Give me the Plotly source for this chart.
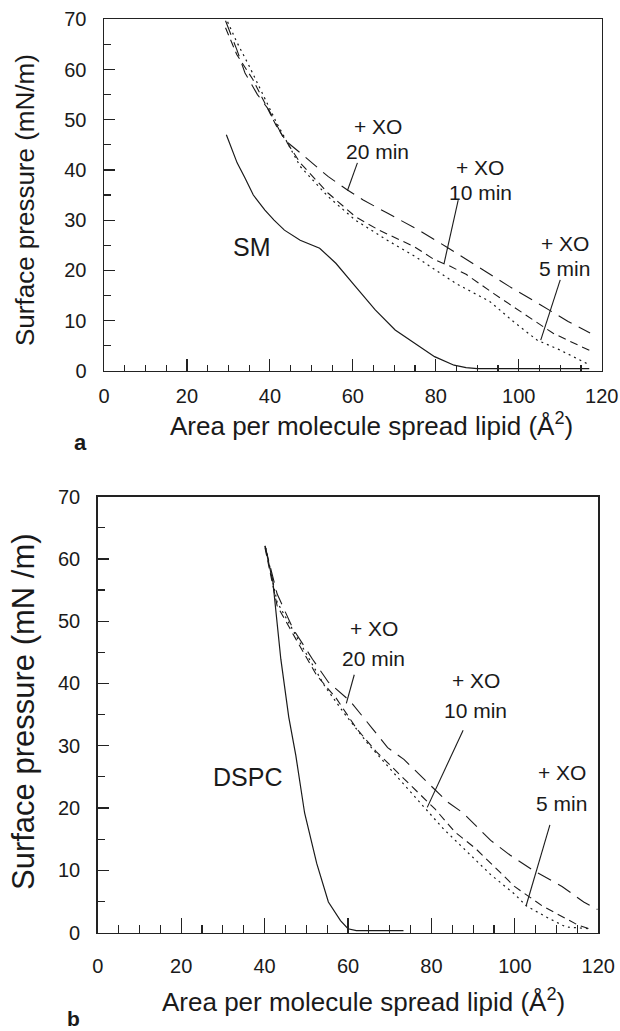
import plotly.graph_objects as go

W, H = 620, 1031
FONT = "Liberation Sans, Arial, Helvetica, sans-serif"
INK = "#1a1a1a"

# ---------------- Panel a : SM ----------------
a_sm_x = [29.5, 32.1, 34, 36, 38.8, 41, 43.5, 47.3, 52, 55.9, 60.6, 65.4, 70.2, 74.9, 79.7, 84.4, 87.3, 90, 100, 110, 117]
a_sm_y = [47, 41.4, 38.4, 35, 32, 30, 28, 26, 24.4, 21.4, 16.8, 12.1, 8.1, 5.5, 2.8, 1.1, 0.6, 0.4, 0.4, 0.4, 0.4]

a_20_x = [29.3, 32, 34, 37, 39.7, 43.5, 47.3, 54, 58.7, 62.5, 68.3, 75.9, 82.5, 90.1, 97.7, 105.3, 111.9, 117.2]
a_20_y = [69.7, 64, 59.3, 55, 52, 46, 43.4, 38.7, 36, 34, 31.4, 28, 24.7, 20.8, 16.8, 13.1, 9.8, 7.5]

a_10_x = [29.3, 32, 35.9, 41.6, 47.3, 54, 60.6, 66.3, 74.8, 79.7, 83.5, 87.3, 93.9, 101.5, 108.2, 112, 117.2]
a_10_y = [68.3, 63, 58, 48.7, 41.4, 35.4, 30.7, 28, 24.7, 22.1, 20.8, 19.2, 15.4, 11.2, 7.5, 6, 4]

a_5_x = [29.8, 32, 35, 41.6, 47.3, 54, 60.6, 68.3, 74.9, 79.7, 85, 93, 98.7, 104.4, 110, 117.2]
a_5_y = [69.5, 65.5, 60.7, 49.4, 40.7, 34.7, 30, 26, 22.8, 20.2, 17.3, 13.8, 9.8, 6.1, 4.1, 1.1]

# label pointers (start, end) for 20, 10, 5 min
a_ptr_x = [[61.1, 58.7], [85.4, 82.0], [110.0, 105.3]]
a_ptr_y = [[41.4, 35.9], [34.0, 21.4], [18.1, 6.1]]
a_lab_x = [66.0, 90.7, 111.1]
a_lab_top_y = [48.7, 40.4, 25.4]
a_lab_bot_y = [43.7, 35.4, 20.4]
a_name = ("SM", 35.7, 24.7)

# ---------------- Panel b : DSPC ----------------
b_ds_x = [40.1, 42, 43.9, 45.8, 47.5, 49.6, 52.5, 55.3, 58.2, 60, 62, 67, 73.3]
b_ds_y = [62.1, 56.3, 43.9, 34.6, 28.4, 19.2, 11.1, 4.9, 1.9, 0.6, 0.3, 0.3, 0.3]

b_20_x = [40.1, 43, 46.8, 51.5, 55.3, 60.6, 65.8, 69.5, 73.4, 80, 83.8, 87.6, 94.2, 98.9, 104.6, 111.3, 116.5, 119.8]
b_20_y = [62.1, 54.4, 48.8, 43.9, 40.2, 37.1, 32.8, 29.7, 27.8, 23.5, 21, 19.2, 14.8, 12.4, 9.9, 7.4, 4.9, 3.7]

b_10_x = [40.1, 43, 47.7, 52.5, 57.2, 62, 66.7, 71.4, 77.1, 80.9, 85.7, 90.4, 95.2, 99.9, 106.5, 111.3, 115.1, 117.9]
b_10_y = [61.8, 52.5, 46.9, 41.3, 37.6, 32.8, 29.1, 26, 22.3, 19.8, 16.1, 13.6, 10.5, 7.4, 4.3, 2.5, 1.2, 0.6]

b_5_x = [40.3, 43, 48.7, 54.4, 59.1, 64.8, 71.4, 77.1, 82.8, 88.5, 94.2, 99.9, 102.7, 107.5, 112.2, 117.9]
b_5_y = [61.8, 53.1, 46.3, 39.6, 35.2, 30.3, 25.3, 21, 16.7, 13, 9.3, 6.2, 4.3, 2.5, 0.9, 0.6]

b_ptr_x = [[61.5, 59.6], [87.6, 79.0], [108.4, 102.7]]
b_ptr_y = [[41.4, 36.8], [32.5, 20.1], [17.3, 4.3]]
b_lab_x = [66.2, 90.6, 111.2]
b_lab_top_y = [48.9, 40.5, 25.7]
b_lab_bot_y = [44.0, 35.6, 20.8]
b_name = ("DSPC", 35.9, 25.0)

lab_top = "+ XO"
lab_bot = ["20 min", "10 min", "5 min"]

x_ticks = [0, 20, 40, 60, 80, 100, 120]
y_ticks = [0, 10, 20, 30, 40, 50, 60, 70]

fig = go.Figure()


def line(x, y, xa, ya, dash="solid", width=1.1):
    fig.add_trace(go.Scatter(x=x, y=y, mode="lines", xaxis=xa, yaxis=ya,
                             line=dict(color=INK, width=width, dash=dash),
                             hoverinfo="skip", showlegend=False))


DASH20, DASH10, DASH5 = "15px,8px", "8px,5px", "2px,4px"

for xa, ya, base, s20, s10, s5, ptx, pty in [
    ("x", "y", (a_sm_x, a_sm_y), (a_20_x, a_20_y), (a_10_x, a_10_y), (a_5_x, a_5_y), a_ptr_x, a_ptr_y),
    ("x2", "y2", (b_ds_x, b_ds_y), (b_20_x, b_20_y), (b_10_x, b_10_y), (b_5_x, b_5_y), b_ptr_x, b_ptr_y),
]:
    line(*base, xa, ya, "solid", 1.2)
    line(*s20, xa, ya, DASH20, 1.1)
    line(*s10, xa, ya, DASH10, 1.1)
    line(*s5, xa, ya, DASH5, 1.2)
    for px_, py_ in zip(ptx, pty):
        line(px_, py_, xa, ya, "solid", 1.1)

annotations = []


def ann(text, x, y, xref, yref, size, **kw):
    annotations.append(dict(text=text, x=x, y=y, xref=xref, yref=yref, showarrow=False,
                            font=dict(family=FONT, size=size, color=INK),
                            xanchor=kw.pop("xanchor", "center"), yanchor=kw.pop("yanchor", "middle"), **kw))


for xr, yr, lx, lt, lb, nm in [("x", "y", a_lab_x, a_lab_top_y, a_lab_bot_y, a_name),
                               ("x2", "y2", b_lab_x, b_lab_top_y, b_lab_bot_y, b_name)]:
    for i in range(3):
        ann(lab_top, lx[i], lt[i], xr, yr, 21)
        ann(lab_bot[i], lx[i], lb[i], xr, yr, 21)
    ann(nm[0], nm[1], nm[2], xr, yr, 25)


def px(v):
    return v / W


def py(v):
    return 1 - v / H


XTITLE = "Area per molecule spread lipid (Å<sup>2</sup>)"
ann(XTITLE, px(371), py(424), "paper", "paper", 26)
ann(XTITLE, px(364), py(1000), "paper", "paper", 26)
ann("Surface pressure (mN/m)", px(25), py(200), "paper", "paper", 26, textangle=-90)
ann("Surface pressure (mN /m)", px(23), py(712), "paper", "paper", 31, textangle=-90)
ann("<b>a</b>", px(80), py(442), "paper", "paper", 22)
ann("<b>b</b>", px(73), py(1018), "paper", "paper", 21)


def xaxis(dom, anchor, major_len, minor_len, standoff):
    return dict(domain=dom, anchor=anchor, range=[0, 120], showgrid=False, zeroline=False,
                automargin=False,
                showline=True, mirror=True, linecolor="#222", linewidth=1.5,
                ticks="inside", tickvals=x_ticks, ticklen=major_len, tickwidth=1.2, tickcolor="#222",
                minor=dict(ticks="inside", dtick=5, tick0=0, ticklen=minor_len, tickwidth=1.2,
                           tickcolor="#222", showgrid=False),
                tickfont=dict(family=FONT, size=20, color=INK), ticklabelstandoff=standoff,
                fixedrange=True)


def yaxis(dom, anchor, standoff):
    return dict(domain=dom, anchor=anchor, range=[0, 70], showgrid=False, zeroline=False,
                automargin=False,
                showline=True, mirror=True, linecolor="#222", linewidth=1.5,
                ticks="inside", tickvals=y_ticks, ticklen=11, tickwidth=1.2, tickcolor="#222",
                minor=dict(ticks="inside", dtick=5, tick0=0, ticklen=7, tickwidth=1.2,
                           tickcolor="#222", showgrid=False),
                tickfont=dict(family=FONT, size=20, color=INK), ticklabelstandoff=standoff,
                fixedrange=True)


fig.update_layout(
    template="none",
    width=W, height=H, autosize=False,
    margin=dict(l=0, r=0, t=0, b=0, pad=0, autoexpand=False),
    paper_bgcolor="white", plot_bgcolor="white",
    xaxis=xaxis([px(104), px(601.7)], "y", 12, 6, 7),
    yaxis=yaxis([py(370.7), py(19.3)], "x", 12),
    xaxis2=xaxis([px(97.7), px(598.3)], "y2", 15, 8, 15),
    yaxis2=yaxis([py(932.5), py(496.7)], "x2", 12),
    annotations=annotations,
    showlegend=False,
)

fig.write_html(
    "out.html",
    config={"displayModeBar": False, "staticPlot": True},
    post_script="document.documentElement.style.margin='0';document.body.style.margin='0';"
                "document.body.style.overflow='hidden';document.documentElement.style.overflow='hidden';",
)
